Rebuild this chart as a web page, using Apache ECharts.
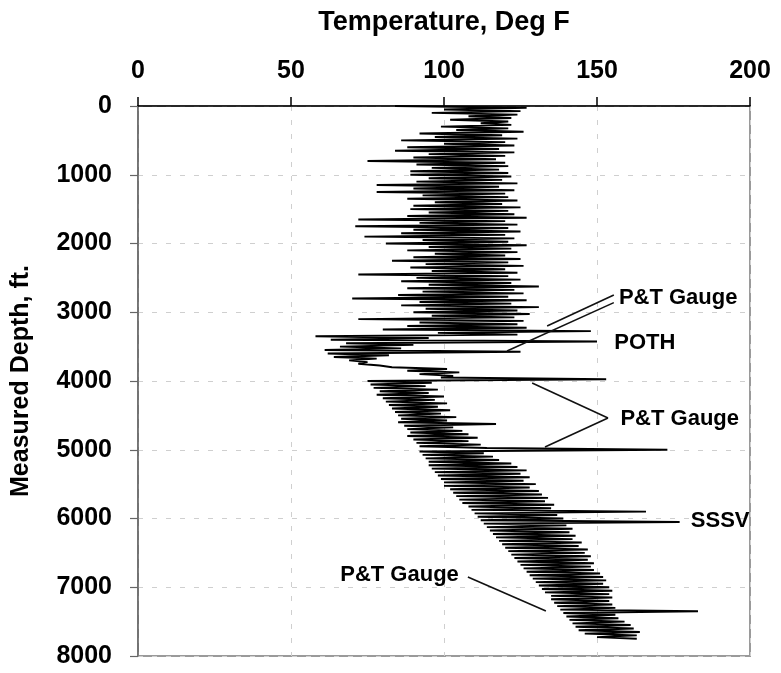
<!DOCTYPE html>
<html><head><meta charset="utf-8">
<script src="https://cdn.jsdelivr.net/npm/echarts/dist/echarts.min.js"></script>
<style>html,body{margin:0;padding:0;background:#fff}#c{width:781px;height:673px}</style>
</head><body><div id="c"></div>
<script>
// Measured depth (ft) of each log sample
const depthFt = [
0,25,50,75,100,125,150,175,200,225,250,275,300,325,350,375,400,425,450,475,
500,525,550,575,600,625,650,675,700,725,750,775,800,825,850,875,900,925,950,975,
1000,1025,1050,1075,1100,1125,1150,1175,1200,1225,1250,1275,1300,1325,1350,1375,1400,1425,1450,1475,
1500,1525,1550,1575,1600,1625,1650,1675,1700,1725,1750,1775,1800,1825,1850,1875,1900,1925,1950,1975,
2000,2025,2050,2075,2100,2125,2150,2175,2200,2225,2250,2275,2300,2325,2350,2375,2400,2425,2450,2475,
2500,2525,2550,2575,2600,2625,2650,2675,2700,2725,2750,2775,2800,2825,2850,2875,2900,2925,2950,2975,
3000,3025,3050,3075,3100,3125,3150,3175,3200,3225,3250,3275,3300,3325,3350,3375,3400,3425,3450,3475,
3500,3525,3550,3575,3600,3625,3650,3675,3700,3725,3750,3775,3800,3825,3850,3875,3900,3925,3950,3975,
4000,4025,4050,4075,4100,4125,4150,4175,4200,4225,4250,4275,4300,4325,4350,4375,4400,4425,4450,4475,
4500,4525,4550,4575,4600,4625,4650,4675,4700,4725,4750,4775,4800,4825,4850,4875,4900,4925,4950,4975,
5000,5025,5050,5075,5100,5125,5150,5175,5200,5225,5250,5275,5300,5325,5350,5375,5400,5425,5450,5475,
5500,5525,5550,5575,5600,5625,5650,5675,5700,5725,5750,5775,5800,5825,5850,5875,5900,5925,5950,5975,
6000,6025,6050,6075,6100,6125,6150,6175,6200,6225,6250,6275,6300,6325,6350,6375,6400,6425,6450,6475,
6500,6525,6550,6575,6600,6625,6650,6675,6700,6725,6750,6775,6800,6825,6850,6875,6900,6925,6950,6975,
7000,7025,7050,7075,7100,7125,7150,7175,7200,7225,7250,7275,7300,7325,7350,7375,7400,7425,7450,7475,
7500,7525,7550,7575,7600,7625,7650,7675,7700,7725,7750
];
// Temperature reading (deg F) at each sample
const tempF = [
84,127,100,125,96,124,108,122,102,121,112,122,99,121,104,126,92,119,97,124,
86,120,100,123,88,118,84,123,95,120,90,117,75,120,91,121,96,118,89,121,
89,122,95,119,91,124,78,118,90,123,78,120,93,121,88,124,97,119,90,125,
89,121,95,123,88,127,72,120,92,124,71,121,90,125,86,120,74,123,93,121,
81,127,95,122,88,124,97,120,90,125,83,121,94,126,89,120,96,124,72,121,
91,125,86,122,95,131,88,123,93,126,85,121,70,127,92,122,86,131,94,124,
90,128,96,123,72,126,92,124,88,127,80,148,98,124,58,95,63,150,68,90,
66,86,61,125,62,82,64,78,69,75,72,79,83,101,88,105,92,103,99,153,
75,96,76,94,77,98,79,95,78,100,80,97,81,101,82,98,83,102,84,99,
85,104,86,101,85,117,87,103,88,106,89,108,88,111,90,108,91,112,92,114,
173,92,113,93,116,94,118,95,122,95,124,96,127,97,125,98,128,99,126,100,
130,100,128,102,131,103,132,104,134,105,133,106,136,108,135,109,166,110,137,111,
139,112,177,113,140,114,142,115,141,116,143,117,142,118,145,119,144,120,147,121,
146,122,148,123,147,124,149,125,148,126,149,127,151,128,152,129,153,130,152,131,
154,132,155,133,154,135,155,135,154,136,155,137,156,138,183,139,156,140,157,141,
159,142,161,143,162,144,164,146,163,150,163
];
const tempTicks = [0, 50, 100, 150, 200];
const depthTicks = [0, 1000, 2000, 3000, 4000, 5000, 6000, 7000, 8000];
const xTitle = 'Temperature, Deg F';
const yTitle = 'Measured Depth, ft.';
// annotation texts anchored in data space [temp, depth]
const noteText = ['P&T Gauge', 'POTH', 'P&T Gauge', 'SSSV', 'P&T Gauge'];
const noteTemp = [156.5, 155, 157, 180, 105.5];
const noteDepth = [2790, 3450, 4555, 6040, 6820];
const noteSide = ['right', 'right', 'right', 'right', 'left'];
// leader lines [temp1, depth1, temp2, depth2]
const leaders = [
  [155.5, 2750, 133.7, 3200],
  [155.5, 2860, 120.6, 3564],
  [153.6, 4538, 128.8, 4029],
  [153.6, 4538, 133.0, 4960],
  [107.8, 6851, 133.3, 7345]
];

const FONT = '"Liberation Sans", Arial, sans-serif';
const chart = echarts.init(document.getElementById('c'), null, {renderer: 'canvas'});
chart.setOption({
  animation: false,
  backgroundColor: '#fff',
  grid: {left: 138, right: 31, top: 106, bottom: 17, show: true, borderColor: '#9a9a9a', borderWidth: 2, backgroundColor: 'transparent'},
  xAxis: {
    type: 'value', position: 'top', min: tempTicks[0], max: tempTicks[tempTicks.length - 1], interval: 50,
    name: xTitle, nameLocation: 'middle', nameGap: 70,
    nameTextStyle: {fontFamily: FONT, fontWeight: 'bold', fontSize: 27, color: '#000'},
    axisLine: {show: true, onZero: false, lineStyle: {color: '#000', width: 1.5}},
    axisTick: {show: true, length: 9, lineStyle: {color: '#000', width: 1.5}},
    axisLabel: {fontFamily: FONT, fontWeight: 'bold', fontSize: 25, color: '#000', margin: 22,
      formatter: v => String(v)},
    splitLine: {show: true, lineStyle: {color: '#cfcfcf', type: [5, 9], width: 1}}
  },
  yAxis: {
    type: 'value', inverse: true, min: depthTicks[0], max: depthTicks[depthTicks.length - 1], interval: 1000,
    name: yTitle, nameLocation: 'middle', nameGap: 104, nameRotate: 90,
    nameTextStyle: {fontFamily: FONT, fontWeight: 'bold', fontSize: 25, color: '#000'},
    axisLine: {show: true, onZero: false, lineStyle: {color: '#666', width: 1.5}},
    axisTick: {show: true, length: 8, lineStyle: {color: '#666', width: 1.2}},
    axisLabel: {fontFamily: FONT, fontWeight: 'bold', fontSize: 25, color: '#000', margin: 26,
      formatter: v => String(v)},
    splitLine: {show: true, lineStyle: {color: '#cfcfcf', type: [5, 9], width: 1}}
  },
  series: [
    {
      type: 'line', name: 'Temperature log', showSymbol: false, symbol: 'none',
      data: depthFt.map((d, i) => [tempF[i], d]),
      lineStyle: {color: '#000', width: 1.9},
      markLine: {
        silent: true, symbol: ['none', 'none'], label: {show: false},
        lineStyle: {color: '#111', width: 1.6, type: 'solid'},
        data: leaders.map(l => [{coord: [l[0], l[1]]}, {coord: [l[2], l[3]]}])
      }
    }
  ]
});
// annotation texts placed through the chart's own coordinate conversion
chart.setOption({
  graphic: noteText.map((t, i) => {
    const p = chart.convertToPixel({gridIndex: 0}, [noteTemp[i], noteDepth[i]]);
    const right = noteSide[i] === 'right';
    return {
      type: 'text', x: p[0] + (right ? 2 : -2), y: p[1], silent: true,
      style: {text: t, fill: '#000', font: 'bold 22px ' + FONT,
        align: right ? 'left' : 'right', verticalAlign: 'middle'}
    };
  })
});
</script></body></html>
